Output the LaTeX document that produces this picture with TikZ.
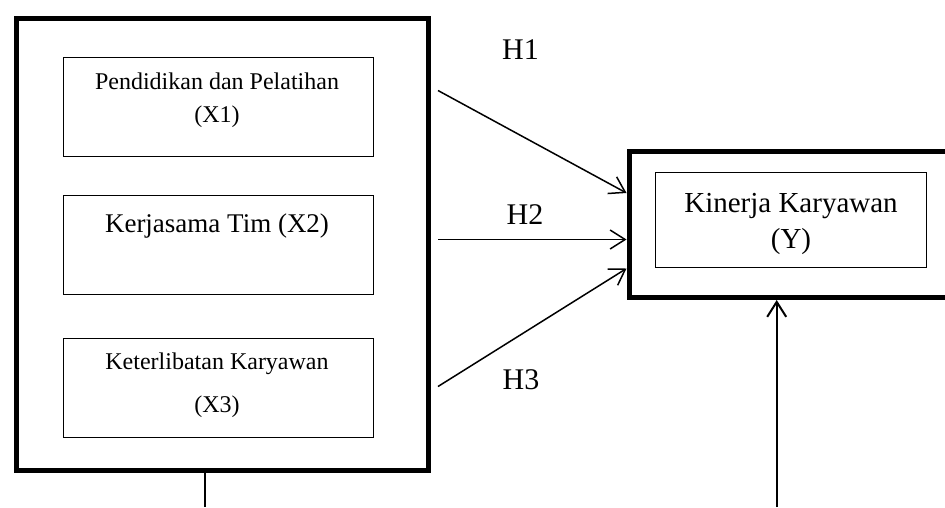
\documentclass[tikz,border=0pt]{standalone}
\usepackage{fontspec}
\setmainfont{Liberation Serif}
\usetikzlibrary{arrows.meta}
\begin{document}
\begin{tikzpicture}[x=1pt,y=-1pt,
  outerbox/.style={draw,line width=5pt,inner sep=0pt,anchor=north west},
  innerbox/.style={draw,line width=1pt,inner sep=0pt,anchor=north west},
  lbl/.style={anchor=base,inner sep=0pt},
  arr/.style={line width=1.5pt,-{Straight Barb[length=15pt,width=19pt]}},
]
\useasboundingbox (0,0) rectangle (945,507);
\clip (0,0) rectangle (945,507);

% group of independent variables
\node[outerbox,minimum width=412pt,minimum height=452pt] (xbox) at (14,16) {};
\node[innerbox,minimum width=310pt,minimum height=99pt] (x1box) at (62.5,57) {};
\node[innerbox,minimum width=310pt,minimum height=99pt] (x2box) at (62.5,195) {};
\node[innerbox,minimum width=310pt,minimum height=99pt] (x3box) at (62.5,337.5) {};

\node[lbl,font=\fontsize{24}{28}\selectfont] (x1a) at (217,89) {Pendidikan dan Pelatihan};
\node[lbl,font=\fontsize{24}{28}\selectfont] (x1b) at (217,122) {(X1)};
\node[lbl,font=\fontsize{27}{32}\selectfont] (x2a) at (217,232) {Kerjasama Tim (X2)};
\node[lbl,font=\fontsize{24}{28}\selectfont] (x3a) at (217,369) {Keterlibatan Karyawan};
\node[lbl,font=\fontsize{24}{28}\selectfont] (x3b) at (217,412) {(X3)};

% dependent variable
\node[outerbox,minimum width=340pt,minimum height=146pt] (ybox) at (626.5,149) {};
\node[innerbox,minimum width=271pt,minimum height=95pt] (yin) at (654.5,172) {};
\node[lbl,font=\fontsize{29}{34}\selectfont] (ya) at (791,212) {Kinerja Karyawan};
\node[lbl,font=\fontsize{29}{34}\selectfont] (yb) at (791,248) {(Y)};

% hypothesis paths
\coordinate (h1s) at (438,90.5);
\coordinate (h2s) at (438,239.5);
\coordinate (h3s) at (438,386.5);
\coordinate (h1e) at (0,193);
\coordinate (h2e) at (0,239.5);
\coordinate (h3e) at (0,268.5);
\draw[arr] (h1s) -- (ybox.west |- h1e);
\draw[arr] (h2s) -- (ybox.west |- h2e);
\draw[arr] (h3s) -- (ybox.west |- h3e);

\node[lbl,font=\fontsize{30}{35}\selectfont] (h1) at (520.5,59) {H1};
\node[lbl,font=\fontsize{30}{35}\selectfont] (h2) at (525,224) {H2};
\node[lbl,font=\fontsize{30}{35}\selectfont] (h3) at (521,389) {H3};

% lines leaving the bottom edge
\coordinate (lbot) at (205,507);
\coordinate (rbot) at (776.7,507);
\draw[line width=2pt] (xbox.south -| lbot) -- (lbot);
\draw[arr,line width=2pt] (rbot) -- (rbot |- ybox.south);
\end{tikzpicture}
\end{document}
